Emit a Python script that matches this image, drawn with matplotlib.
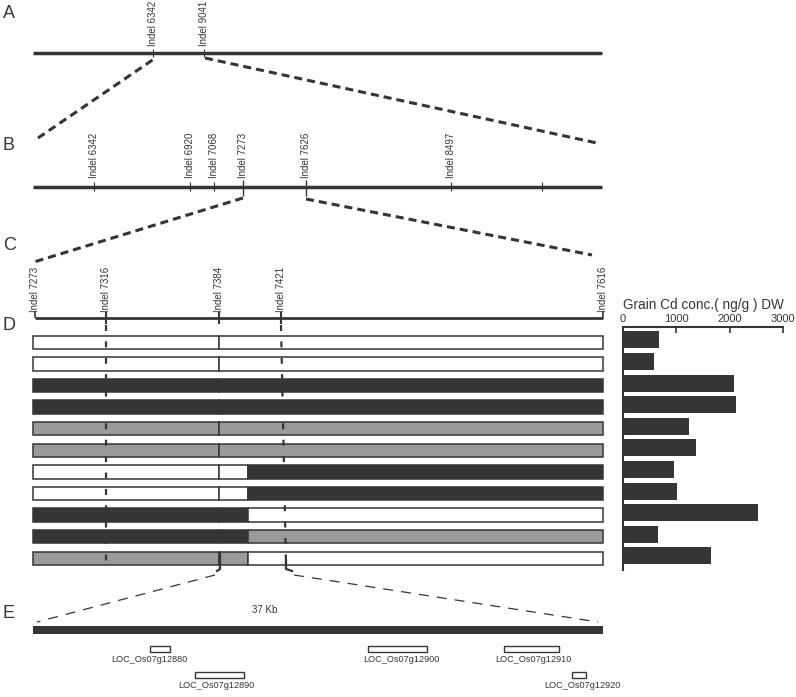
import matplotlib
matplotlib.use('Agg')
import matplotlib.pyplot as plt
from matplotlib.patches import Rectangle
from matplotlib import font_manager

plt.rcParams['lines.scale_dashes'] = False

names = {f.name for f in font_manager.fontManager.ttflist}
HAS_NARROW = 'Liberation Sans Narrow' in names
NARROW = 'Liberation Sans Narrow' if HAS_NARROW else 'Liberation Sans'
SMALL = 8 if HAS_NARROW else 7     # indel labels
GENE_FS = 7.5 if HAS_NARROW else 6.6
REG = 'Liberation Sans'
DARK = '#353535'
GRAY = '#9a9a9a'

# ---- data ----
a_markers = ['Indel 6342', 'Indel 9041']
a_pos = [152.5, 204]

b_markers = ['Indel 6342', 'Indel 6920', 'Indel 7068', 'Indel 7273', 'Indel 7626', 'Indel 8497', '']
b_pos = [94, 190, 214, 243, 306, 451, 542]

c_markers = ['Indel 7273', 'Indel 7316', 'Indel 7384', 'Indel 7421', 'Indel 7616']
c_pos = [35, 106, 219, 281, 603]

# genotype of each line in the three intervals (W = white, B = black, G = gray)
seg_edges = [33, 219, 248, 603]
genotypes = ['WWW', 'WWW', 'BBB', 'BBB', 'GGG', 'GGG', 'WWB', 'WWB', 'BBW', 'BBG', 'GGW']
cd_conc = [669, 575, 2075, 2119, 1231, 1369, 950, 1019, 2537, 650, 1650]

genes = ['LOC_Os07g12880', 'LOC_Os07g12890', 'LOC_Os07g12900', 'LOC_Os07g12910', 'LOC_Os07g12920']
gene_start = [150, 195, 368, 504, 572]
gene_end = [170, 244, 427, 559, 586]
gene_level = [0, 1, 0, 0, 1]
label_shift = [-11, -3, 4, 2, 3]

colors = {'W': 'white', 'B': DARK, 'G': GRAY}

fig = plt.figure(figsize=(7.96, 6.97), dpi=100)
ax = fig.add_axes([0, 0, 1, 1])
ax.set_xlim(0, 796)
ax.set_ylim(697, 0)
ax.axis('off')


def indel_labels(xs, labels, y_bottom):
    for x, lab in zip(xs, labels):
        if lab:
            ax.text(x, y_bottom, lab, rotation=90, ha='center', va='bottom',
                    fontsize=SMALL, family=NARROW, color=DARK)


def dashed(p0, p1, lw, on, off):
    ax.plot([p0[0], p1[0]], [p0[1], p1[1]], color=DARK, lw=lw,
            linestyle=(0, (on, off)), solid_capstyle='butt', dash_capstyle='butt')


# panel letters
for lab, y in zip('ABCDE', [13, 145, 245, 326, 613]):
    ax.text(3, y, lab, fontsize=13, family=REG, color=DARK, va='center', ha='left')

# ---- A ----
ax.plot([33, 602], [53, 53], color=DARK, lw=2.5, solid_capstyle='butt')
ax.vlines(a_pos, 49, 57, color=DARK, lw=0.8)
indel_labels(a_pos, a_markers, 46)
dashed((a_pos[0], 60), (38, 138), 2.2, 5.8, 3.6)
dashed((a_pos[1] + 1, 58), (597, 143), 2.2, 5.8, 3.6)

# ---- B ----
ax.plot([33, 602], [187, 187], color=DARK, lw=2.5, solid_capstyle='butt')
for x, lab in zip(b_pos, b_markers):
    big = lab in ('Indel 7273', 'Indel 7626')
    ax.vlines(x, 180 if big else 182, 196 if big else 191, color=DARK, lw=1.0 if big else 0.8)
indel_labels(b_pos, b_markers, 178)
dashed((b_pos[3], 198), (34, 262), 2.2, 5.8, 3.6)
dashed((b_pos[4], 199), (592, 255), 2.2, 5.8, 3.6)

# ---- C ----
ax.plot([c_pos[0], c_pos[-1]], [318, 318], color=DARK, lw=2.0, solid_capstyle='butt')
for i, x in enumerate(c_pos):
    if i in (0, len(c_pos) - 1):
        ax.vlines(x, 311, 318, color=DARK, lw=1.2)
    else:
        ax.vlines(x, 312, 324, color=DARK, lw=1.5)
indel_labels(c_pos, c_markers, 312)

# ---- D ----
row_y0, row_pitch, row_h = 335.5, 21.6, 13.5
for i, g in enumerate(genotypes):
    y = row_y0 + i * row_pitch
    parts = [[seg_edges[0], seg_edges[1], g[0]]]
    for k in (1, 2):
        if g[k] == parts[-1][2] and k == 2:
            parts[-1][1] = seg_edges[k + 1]
        else:
            parts.append([seg_edges[k], seg_edges[k + 1], g[k]])
    for x0, x1, c in parts:
        ax.add_patch(Rectangle((x0, y), x1 - x0, row_h, facecolor=colors[c],
                               edgecolor=DARK, lw=1.1, zorder=2))

last_bottom = row_y0 + (len(genotypes) - 1) * row_pitch + row_h
ax.plot([c_pos[1], c_pos[1]], [325, last_bottom], color=DARK, lw=1.6,
        linestyle=(0, (4.3, 7.5)), zorder=3)
ax.plot([c_pos[3], c_pos[3] + 5], [325, last_bottom], color=DARK, lw=1.6,
        linestyle=(0, (4.3, 7.5)), zorder=3)
ax.plot([c_pos[2] + 1, c_pos[2] + 1, c_pos[2] - 2], [last_bottom - 12, last_bottom + 4, last_bottom + 6],
        color=DARK, lw=1.6, zorder=3)
ax.plot([c_pos[3] + 5, c_pos[3] + 5, c_pos[3] + 11], [last_bottom - 4, last_bottom + 4, last_bottom + 6],
        color=DARK, lw=1.6, zorder=3)

# ---- E ----
dashed((c_pos[2] - 4, 575), (37, 622), 0.9, 7.2, 5.8)
dashed((c_pos[3] + 13, 575), (598, 622), 0.9, 7.2, 5.8)
ax.add_patch(Rectangle((seg_edges[0], 626), seg_edges[-1] - seg_edges[0], 8,
                       facecolor=DARK, edgecolor='none'))
ax.text(265, 610, '37 Kb', fontsize=GENE_FS + 0.4, family=NARROW, color=DARK, ha='center', va='center')
for name, s, e, lvl, sh in zip(genes, gene_start, gene_end, gene_level, label_shift):
    y = 646 + lvl * 26
    ax.add_patch(Rectangle((s, y), e - s, 5.5, facecolor='white', edgecolor=DARK, lw=1.0))
    ax.text((s + e) / 2 + sh, y + 9.5, name, fontsize=GENE_FS, family=NARROW, color=DARK,
            ha='center', va='top')

# ---- bar chart ----
bx = fig.add_axes([623 / 796, 1 - 570 / 697, (783 - 623) / 796, (570 - 327) / 697])
bx.barh(range(len(cd_conc)), cd_conc, height=0.79, color=DARK)
bx.set_xlim(0, 3000)
bx.set_ylim(10.65, -0.6)
bx.set_yticks([])
bx.set_xticks([0, 1000, 2000, 3000])
bx.xaxis.tick_top()
bx.xaxis.set_label_position('top')
bx.tick_params(axis='x', direction='in', length=4, width=1.2, color=DARK, pad=2,
               labelsize=8, labelcolor=DARK)
for t in bx.get_xticklabels():
    t.set_family(REG)
bx.set_xlabel('Grain Cd conc.( ng/g ) DW', fontsize=9.8, family=REG, color=DARK, labelpad=4)
for side in ('bottom', 'right'):
    bx.spines[side].set_visible(False)
for side in ('top', 'left'):
    bx.spines[side].set_linewidth(1.5)
    bx.spines[side].set_color(DARK)
bx.patch.set_alpha(0)

fig.savefig('out.png', dpi=100)
